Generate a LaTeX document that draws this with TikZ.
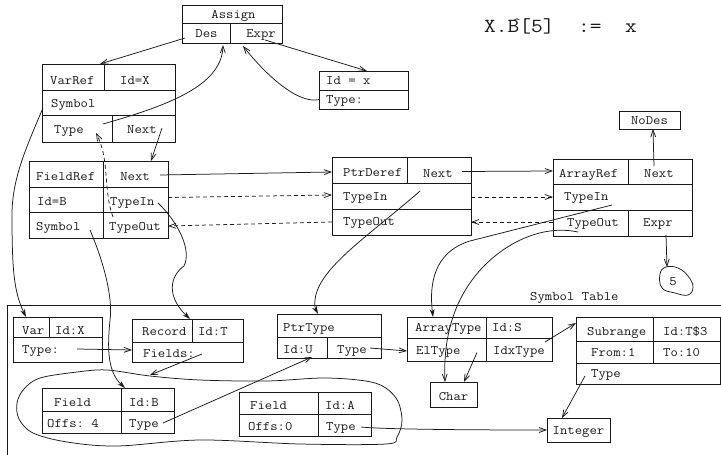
\documentclass[tikz,border=0pt]{standalone}
\usepackage{graphicx}
\usetikzlibrary{arrows.meta}
\colorlet{ink}{black!90}
% typewriter labels, widened to Courier proportions
\newcommand\stretchtt[1]{\scalebox{1.1}[1]{#1}}
\begin{document}
\begin{tikzpicture}[x=1pt,y=-1pt,
  cell/.style 2 args={draw=ink, line width=0.9pt, inner sep=0pt, outer sep=0pt,
    anchor=north west, minimum width=#1pt, minimum height=#2pt},
  lbl/.style={inner sep=0pt, anchor=base west, text=ink,
    font=\fontsize{13}{13}\selectfont\ttfamily},
  clbl/.style={lbl, anchor=base},
  link/.style={draw=ink, line width=0.75pt, -{Straight Barb[length=7pt,width=5pt]}},
  feed/.style={draw=ink, line width=0.75pt, -{Stealth[length=8pt,width=5pt]}},
  trail/.style={link, dash pattern=on 4pt off 3pt},
  outline/.style={draw=ink, line width=0.75pt}
]
\useasboundingbox (0,0) rectangle (721,455);

% statement
\node[inner sep=0pt, anchor=base west, text=ink, font=\fontsize{20}{20}\selectfont\ttfamily]
  (stmt) at (484,32) {\scalebox{1.14}[1]{X.B[5]\ \ :=\ \ x}};
\node[inner sep=0pt, anchor=north, text=ink, font=\fontsize{14}{14}\selectfont\ttfamily]
  (stmtHat) at (517,18.5) {\textasciicircum};

% Assign
\node[cell={100}{18}] (asHead) at (182,5) {};
\node[cell={48}{20}] (asDes) at (182,23) {};
\node[cell={52}{20}] (asExpr) at (230,23) {};
\node[clbl] (tAssign) at (233.5,19) {\stretchtt{Assign}};
\node[clbl] (tDes) at (206.5,37) {\stretchtt{Des}};
\node[clbl] (tExpr) at (261,37) {\stretchtt{Expr}};

% VarRef
\node[cell={62}{26}] (vrKind) at (42,64) {};
\node[cell={71}{26}] (vrId) at (104,64) {};
\node[cell={133}{25}] (vrSym) at (42,90) {};
\node[cell={70}{27}] (vrType) at (42,115) {};
\node[cell={63}{27}] (vrNext) at (112,115) {};
\node[lbl] (tVrKind) at (50,84) {\stretchtt{VarRef}};
\node[lbl] (tVrId) at (120,84) {\stretchtt{Id=X}};
\node[lbl] (tVrSym) at (51,107) {\stretchtt{Symbol}};
\node[lbl] (tVrType) at (54,133) {\stretchtt{Type}};
\node[lbl] (tVrNext) at (127,133) {\stretchtt{Next}};

% Id = x
\node[cell={89}{19}] (idHead) at (319,71) {};
\node[cell={89}{19}] (idType) at (319,90) {};
\node[lbl] (tIdHead) at (326,84.5) {\stretchtt{Id = x}};
\node[lbl] (tIdType) at (326,103) {\stretchtt{Type:}};

% NoDes
\node[cell={61}{18}] (noDes) at (619,111) {};
\node[clbl] (tNoDes) at (649.5,124) {\stretchtt{NoDes}};

% FieldRef
\node[cell={74}{26}] (frKind) at (29,161) {};
\node[cell={65}{26}] (frNext) at (103,161) {};
\node[cell={74}{25}] (frId) at (29,187) {};
\node[cell={65}{25}] (frIn) at (103,187) {};
\node[cell={74}{26}] (frSym) at (29,212) {};
\node[cell={65}{26}] (frOut) at (103,212) {};
\node[lbl] (tFrKind) at (36,180) {\stretchtt{FieldRef}};
\node[clbl] (tFrNext) at (135,180) {\stretchtt{Next}};
\node[lbl] (tFrId) at (37,205) {\stretchtt{Id=B}};
\node[lbl] (tFrIn) at (110,205) {\stretchtt{TypeIn}};
\node[lbl] (tFrSym) at (36,230) {\stretchtt{Symbol}};
\node[lbl] (tFrOut) at (109,230) {\stretchtt{TypeOut}};

% PtrDeref
\node[cell={75}{26}] (pdKind) at (332,157) {};
\node[cell={64}{26}] (pdNext) at (407,157) {};
\node[cell={139}{26}] (pdIn) at (332,183) {};
\node[cell={139}{26}] (pdOut) at (332,209) {};
\node[lbl] (tPdKind) at (343,176) {\stretchtt{PtrDeref}};
\node[lbl] (tPdNext) at (423,177) {\stretchtt{Next}};
\node[lbl] (tPdIn) at (343,200) {\stretchtt{TypeIn}};
\node[lbl] (tPdOut) at (343,225) {\stretchtt{TypeOut}};

% ArrayRef
\node[cell={75}{25}] (arKind) at (553,159) {};
\node[cell={64}{25}] (arNext) at (628,159) {};
\node[cell={139}{26}] (arIn) at (553,184) {};
\node[cell={75}{26}] (arOut) at (553,210) {};
\node[cell={64}{26}] (arExpr) at (628,210) {};
\node[lbl] (tArKind) at (559,177) {\stretchtt{ArrayRef}};
\node[lbl] (tArNext) at (644,177) {\stretchtt{Next}};
\node[lbl] (tArIn) at (564,200) {\stretchtt{TypeIn}};
\node[lbl] (tArOut) at (567,226) {\stretchtt{TypeOut}};
\node[lbl] (tArExpr) at (643,226) {\stretchtt{Expr}};

% constant 5
\draw[outline] plot[smooth cycle, tension=0.7] coordinates
  {(660,274) (666,267) (678,268) (688,276) (693,287) (688,295) (675,293) (662,288)};
\node[clbl] (tFive) at (673,285) {\stretchtt{5}};

% symbol table frame
\draw[outline, line width=0.9pt] (7.3,455) -- (7.3,305.7) -- (721,305.7);
\node[lbl] (tSymTab) at (530,300) {\stretchtt{Symbol Table}};

% Var
\node[cell={36}{20}] (vaKind) at (13,317) {};
\node[cell={53}{20}] (vaId) at (49,317) {};
\node[cell={89}{25}] (vaType) at (13,337) {};
\node[lbl] (tVaKind) at (22,334) {\stretchtt{Var}};
\node[lbl] (tVaId) at (55,334) {\stretchtt{Id:X}};
\node[lbl] (tVaType) at (22,353) {\stretchtt{Type:}};

% Record
\node[cell={60}{23}] (reKind) at (132,319) {};
\node[cell={51}{23}] (reId) at (192,319) {};
\node[cell={111}{20}] (reFields) at (132,342) {};
\node[lbl] (tReKind) at (142,335) {\stretchtt{Record}};
\node[lbl] (tReId) at (198,335) {\stretchtt{Id:T}};
\node[lbl] (tReFields) at (143,357) {\stretchtt{Fields:}};

% PtrType
\node[cell={104}{23}] (ptKind) at (277,314) {};
\node[cell={50}{21}] (ptId) at (277,337) {};
\node[cell={54}{21}] (ptType) at (327,337) {};
\node[lbl] (tPtKind) at (283,331) {\stretchtt{PtrType}};
\node[lbl] (tPtId) at (283,353) {\stretchtt{Id:U}};
\node[lbl] (tPtType) at (337,353) {\stretchtt{Type}};

% ArrayType
\node[cell={79}{21}] (atKind) at (407,317) {};
\node[cell={66}{21}] (atId) at (486,317) {};
\node[cell={79}{23}] (atEl) at (407,338) {};
\node[cell={66}{23}] (atIdx) at (486,338) {};
\node[lbl] (tAtKind) at (415,331) {\stretchtt{ArrayType}};
\node[lbl] (tAtId) at (492,331) {\stretchtt{Id:S}};
\node[lbl] (tAtEl) at (416,354) {\stretchtt{ElType}};
\node[lbl] (tAtIdx) at (493,354) {\stretchtt{IdxType}};

% Subrange
\node[cell={77}{24}] (srKind) at (576,317) {};
\node[cell={67}{24}] (srId) at (653,317) {};
\node[cell={77}{22}] (srFrom) at (576,341) {};
\node[cell={67}{22}] (srTo) at (653,341) {};
\node[cell={144}{21}] (srType) at (576,363) {};
\node[lbl] (tSrKind) at (587,335) {\stretchtt{Subrange}};
\node[lbl] (tSrId) at (663,335) {\stretchtt{Id:T\$3}};
\node[lbl] (tSrFrom) at (591,356) {\stretchtt{From:1}};
\node[lbl] (tSrTo) at (663,356) {\stretchtt{To:10}};
\node[lbl] (tSrType) at (591,377) {\stretchtt{Type}};

% Char and Integer
\node[cell={47}{25}] (chBox) at (430,382) {};
\node[clbl] (tChar) at (453.5,400) {\stretchtt{Char}};
\node[cell={63}{24}] (inBox) at (547,418) {};
\node[clbl] (tInt) at (578.5,434) {\stretchtt{Integer}};

% Field B
\node[cell={79}{23}] (fbKind) at (42,388) {};
\node[cell={53}{23}] (fbId) at (121,388) {};
\node[cell={79}{22}] (fbOffs) at (42,411) {};
\node[cell={53}{22}] (fbType) at (121,411) {};
\node[lbl] (tFbKind) at (54,406) {\stretchtt{Field}};
\node[lbl] (tFbId) at (129,406) {\stretchtt{Id:B}};
\node[lbl] (tFbOffs) at (47,427) {\stretchtt{Offs:\ 4}};
\node[lbl] (tFbType) at (129,427) {\stretchtt{Type}};

% Field A
\node[cell={79}{22}] (faKind) at (239,392) {};
\node[cell={53}{22}] (faId) at (318,392) {};
\node[cell={79}{22}] (faOffs) at (239,414) {};
\node[cell={53}{22}] (faType) at (318,414) {};
\node[lbl] (tFaKind) at (250,409) {\stretchtt{Field}};
\node[lbl] (tFaId) at (325,409) {\stretchtt{Id:A}};
\node[lbl] (tFaOffs) at (248,430) {\stretchtt{Offs:0}};
\node[lbl] (tFaType) at (326,430) {\stretchtt{Type}};

% field list outline
\draw[outline] plot[smooth cycle, tension=0.55] coordinates
  {(107,370) (150,376) (200,380) (267,381) (327,378) (375,383) (396,398) (402,420)
   (397,437) (386,444) (300,444) (200,440) (117,446) (67,442) (33,433) (19,419)
   (17,403) (24,389) (40,378) (77,372)};

% connector end points
\coordinate (pDes) at (185,38);
\coordinate (pVarRefTop) at (100,64);
\coordinate (pExpr) at (265,40);
\coordinate (pIdTop) at (367,71);
\coordinate (pIdType) at (319,99.5);
\coordinate (pExprIn) at (243,46);
\coordinate (pVrType) at (103,124);
\coordinate (pDesIn) at (223,45);
\coordinate (pVrSym) at (43,108);
\coordinate (pVarTop) at (26,317);
\coordinate (pVrNext) at (162,128);
\coordinate (pFrTop) at (151,161);
\coordinate (pFrOut) at (113,217);
\coordinate (pVrTypeIn) at (96,133);
\coordinate (pFrNext) at (160,175);
\coordinate (pPdLeft) at (332,172);
\coordinate (pFrIn) at (168,197.5);
\coordinate (pPdIn) at (332,195);
\coordinate (pPdOut) at (332,222);
\coordinate (pFrOutR) at (168,226);
\coordinate (pFrInSrc) at (158,203);
\coordinate (pReTop) at (190,319);
\coordinate (pFrSym) at (90,230);
\coordinate (pFbTop) at (125,388);
\coordinate (pPdNext) at (462,171.5);
\coordinate (pArLeft) at (553,171);
\coordinate (pPdInR) at (471,197);
\coordinate (pArIn) at (553,197);
\coordinate (pArOut) at (553,222);
\coordinate (pPdOutR) at (471,222);
\coordinate (pPdTypeIn) at (420,191);
\coordinate (pPtTop) at (318,314);
\coordinate (pArInSrc) at (612,205);
\coordinate (pAtTop) at (433,317);
\coordinate (pArOutSrc) at (578,232);
\coordinate (pCharTop) at (445,382);
\coordinate (pElSrc) at (477,352.5);
\coordinate (pCharTop2) at (464,382);
\coordinate (pPtType) at (370,348);
\coordinate (pAtEl) at (407,351);
\coordinate (pVaType) at (77,349);
\coordinate (pReLeft) at (132,350);
\coordinate (pFields) at (202,354);
\coordinate (pFieldList) at (150,375);
\coordinate (pFbType) at (163,423);
\coordinate (pPtId) at (312,357);
\coordinate (pFaType) at (361,427);
\coordinate (pIntLeft) at (547,430);
\coordinate (pSrType) at (585,376);
\coordinate (pIntTop) at (562,418);
\coordinate (pIdx) at (545,342);
\coordinate (pSrLeft) at (576,323);
\coordinate (pArNext) at (654,166);
\coordinate (pNoDes) at (653,129);
\coordinate (pArExpr) at (666,235);
\coordinate (pFive) at (667,267);

% syntax tree links
\draw[link] (pDes) -- (pVarRefTop);
\draw[link] (pExpr) -- (pIdTop);
\draw[link] (pIdType) .. controls (300,104) and (270,80) .. (pExprIn);
\draw[link] (pVrType) .. controls (170,105) and (222,85) .. (pDesIn);
\draw[link] (pVrNext) -- (pFrTop);
\draw[link] (pFrNext) -- (pPdLeft);
\draw[link] (pPdNext) -- (pArLeft);
\draw[link] (pArNext) -- (pNoDes);
\draw[link] (pArExpr) -- (pFive);

% type flow
\draw[trail] (pFrOut) .. controls (103,190) and (110,160) .. (pVrTypeIn);
\draw[trail] (pFrIn) -- (pPdIn);
\draw[trail] (pPdOut) -- (pFrOutR);
\draw[trail] (pPdInR) -- (pArIn);
\draw[trail] (pArOut) -- (pPdOutR);

% references into the symbol table
\draw[feed] (pVrSym) .. controls (25,150) and (12,180) .. (12,215)
  .. controls (12,270) and (14,292) .. (pVarTop);
\draw[feed] (pFrInSrc) .. controls (178,222) and (192,250) .. (184,266)
  .. controls (170,276) and (166,296) .. (pReTop);
\draw[feed] (pFrSym) .. controls (105,265) and (113,300) .. (110,320)
  .. controls (107,350) and (108,372) .. (pFbTop);
\draw[feed] (pPdTypeIn) .. controls (370,235) and (318,268) .. (315,300)
  .. controls (314,306) and (316,310) .. (pPtTop);
\draw[feed] (pArInSrc) -- (470,241) .. controls (440,250) and (428,275) .. (pAtTop);
\draw[link] (pArOutSrc) .. controls (540,224) and (505,245) .. (485,265)
  .. controls (455,295) and (443,335) .. (pCharTop);

% links inside the symbol table
\draw[link] (pElSrc) -- (pCharTop2);
\draw[link] (pPtType) -- (pAtEl);
\draw[link] (pVaType) -- (pReLeft);
\draw[link] (pFields) -- (pFieldList);
\draw[link] (pFbType) -- (pPtId);
\draw[link] (pFaType) .. controls (380,429) and (450,430) .. (pIntLeft);
\draw[link] (pSrType) -- (pIntTop);
\draw[link] (pIdx) -- (pSrLeft);
\end{tikzpicture}
\end{document}
